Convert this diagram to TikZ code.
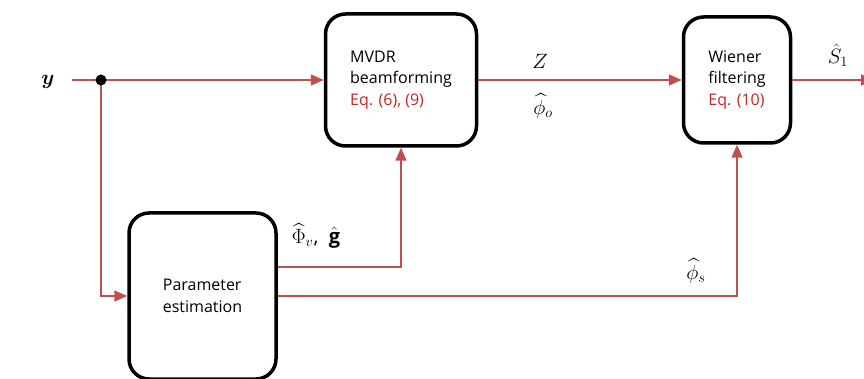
\documentclass[tikz,border=0pt]{standalone}
\usepackage{amsmath,bm}
\usepackage{fontspec}
\setmainfont{Open Sans}
\usetikzlibrary{arrows.meta, positioning}

\definecolor{sigred}{RGB}{192,80,77}
\definecolor{eqred}{RGB}{192,40,40}

\begin{document}
\begin{tikzpicture}[
        x=1pt, y=-1pt,
        block/.style={rectangle, rounded corners=20pt, draw=black, line width=3.5pt, fill=white, align=left, font=\fontsize{16}{21.5}\selectfont, inner sep=0pt},
        sig/.style={draw=sigred, line width=1.8pt, -{Triangle[length=13pt, width=11pt]}},
        wire/.style={draw=sigred, line width=1.8pt},
        lab/.style={font=\fontsize{20}{24}\selectfont, inner sep=0pt}
    ]
        \useasboundingbox (0,0) rectangle (864,379);

        % Blocks
        \node[block, minimum width=151pt, minimum height=132pt] (mvdr) at (401,80) {MVDR\\beamforming\\\textcolor{eqred}{Eq. (6), (9)}};
        \node[block, minimum width=107pt, minimum height=126pt] (wiener) at (737,80) {Wiener\\filtering\\\textcolor{eqred}{Eq. (10)}};
        \node[block, minimum width=147pt, minimum height=166pt] (param) at (202.5,296) {Parameter\\estimation};

        % Input and split point
        \node[lab] (yin) at (48,82) {$\bm{y}$};
        \coordinate (in) at (72,80);
        \coordinate (split) at (101,80);
        \coordinate (out) at (874,80);

        % Signal paths
        \draw[wire] (in) -- (split);
        \draw[sig] (split) -- (mvdr.west);
        \draw[sig] (split) |- (param.west);
        \draw[sig] (mvdr.east) -- (wiener.west);
        \draw[sig] (wiener.east) -- (out);
        \draw[sig] ([yshift=29pt]param.east) -| (mvdr.south);
        \draw[sig] (param.east) -| (wiener.south);
        \fill (split) circle (5.5pt);

        % Labels
        \node[lab] (zlab) at (540,61) {$Z$};
        \node[lab] (philab) at (543,106) {$\widehat{\phi}_o$};
        \node[lab] (slab) at (838,55) {$\hat{S}_1$};
        \node[lab] (philv) at (316,236) {$\widehat{\Phi}_{v}$,\ \ $\hat{\mathbf{g}}$};
        \node[lab] (phils) at (696,271) {$\widehat{\phi}_s$};

    \end{tikzpicture}
\end{document}
